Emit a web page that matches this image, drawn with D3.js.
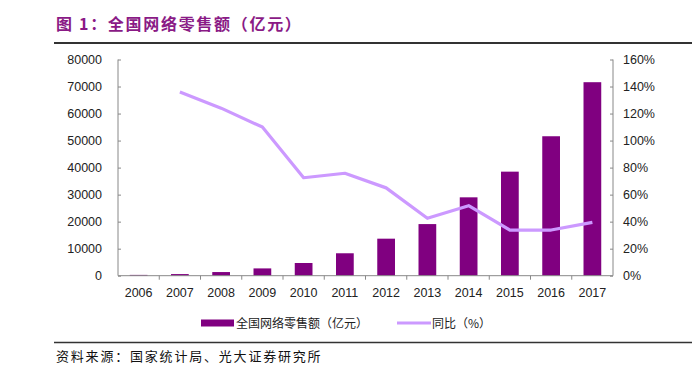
<!DOCTYPE html>
<html>
<head>
<meta charset="utf-8">
<script src="https://cdn.jsdelivr.net/npm/d3@7"></script>
<style>
  body { margin: 0; background: #fff; }
  svg { display: block; }
</style>
</head>
<body>
<svg width="692" height="373"></svg>
<script>
// 全国网络零售额 data
const years = ['2006', '2007', '2008', '2009', '2010', '2011', '2012',
  '2013', '2014', '2015', '2016', '2017'];
const sales = [300, 600, 1350, 2700, 4700, 8300, 13700, 19100, 29000,
  38500, 51600, 71600];
const growth = [null, 136, 124, 110, 72.5, 75.8, 65, 42.5, 51.8, 33.8,
  33.8, 39.5];
const leftTicks = [0, 10000, 20000, 30000, 40000, 50000, 60000, 70000, 80000];
const rightTicks = [0, 20, 40, 60, 80, 100, 120, 140, 160];

const svg = d3.select('svg');
const font = '"Liberation Sans", Arial, sans-serif';
const cjk = '"Noto Sans CJK SC", sans-serif';

const plotLeft = 118;
const plotRight = 613;
const plotTop = 59.5;
const plotBottom = 275.7;

const x = d3.scaleBand().domain(years).range([plotLeft, plotRight])
    .paddingInner(0.57).paddingOuter(0.285);
const xb = d3.scaleBand().domain(years).range([plotLeft, plotRight]);
const yL = d3.scaleLinear().domain([0, 80000]).range([plotBottom, plotTop]);
const yR = d3.scaleLinear().domain([0, 160]).range([plotBottom, plotTop]);

// title
svg.append('text')
    .attr('x', 56).attr('y', 30)
    .style('font-family', cjk).style('font-size', '16px')
    .style('font-weight', 'bold').style('fill', '#8a1a86')
    .style('letter-spacing', '1.7px')
    .text('图 1：全国网络零售额（亿元）');
svg.append('line')
    .attr('x1', 54).attr('x2', 692).attr('y1', 43).attr('y2', 43)
    .style('stroke', '#333').style('stroke-width', 2);

// bars
svg.append('g').selectAll('rect')
    .data(years)
    .enter()
    .append('rect')
    .attr('x', (d) => x(d))
    .attr('width', x.bandwidth())
    .attr('y', (d, i) => yL(sales[i]))
    .attr('height', (d, i) => plotBottom - yL(sales[i]))
    .style('fill', '#800080');

// growth line
const pts = years.map((d, i) => [xb(d) + xb.bandwidth() / 2, growth[i]])
    .filter((p) => p[1] !== null);
svg.append('path')
    .datum(pts)
    .attr('d', d3.line().x((p) => p[0]).y((p) => yR(p[1])))
    .style('fill', 'none')
    .style('stroke', '#cc99ff')
    .style('stroke-width', 3.2)
    .style('stroke-linejoin', 'round');

// axes
const axisColor = '#888';
const gL = svg.append('g').attr('transform', `translate(${plotLeft},0)`)
    .call(d3.axisRight(yL).tickValues(leftTicks).tickSize(3).tickFormat(''));
const gR = svg.append('g').attr('transform', `translate(${plotRight},0)`)
    .call(d3.axisLeft(yR).tickValues(rightTicks).tickSize(3).tickFormat(''));
[gL, gR].forEach((g) => {
  g.select('.domain').attr('d', `M0,${plotTop}V${plotBottom}`);
});

svg.append('g').selectAll('text')
    .data(leftTicks).enter().append('text')
    .attr('x', 102).attr('y', (d) => yL(d) + 4.5)
    .attr('text-anchor', 'end')
    .style('font-family', font).style('font-size', '12.5px')
    .style('fill', '#222')
    .text((d) => d);
svg.append('g').selectAll('text')
    .data(rightTicks).enter().append('text')
    .attr('x', 623).attr('y', (d) => yR(d) + 4.5)
    .style('font-family', font).style('font-size', '12.5px')
    .style('fill', '#222')
    .text((d) => d + '%');

// x axis
const gX = svg.append('g').attr('transform', `translate(0,${plotBottom})`);
gX.append('line').attr('x1', plotLeft).attr('x2', plotRight)
    .style('stroke', axisColor);
gX.selectAll('line.tk')
    .data(years.slice(1)).enter().append('line')
    .attr('class', 'tk')
    .attr('x1', (d) => xb(d)).attr('x2', (d) => xb(d))
    .attr('y1', 0).attr('y2', 4)
    .style('stroke', axisColor);
gX.selectAll('text')
    .data(years).enter().append('text')
    .attr('x', (d) => xb(d) + xb.bandwidth() / 2)
    .attr('y', 21)
    .attr('text-anchor', 'middle')
    .style('font-family', font).style('font-size', '12.5px')
    .style('fill', '#222')
    .text((d) => d);

svg.selectAll('.domain, .tick line').style('stroke', axisColor);

// legend
svg.append('rect').attr('x', 201).attr('y', 319.5).attr('width', 33)
    .attr('height', 7).style('fill', '#800080');
svg.append('text').attr('x', 236).attr('y', 327.5)
    .style('font-family', cjk).style('font-size', '12px').style('fill', '#222')
    .text('全国网络零售额（亿元）');
svg.append('line').attr('x1', 397).attr('x2', 431)
    .attr('y1', 323).attr('y2', 323)
    .style('stroke', '#cc99ff').style('stroke-width', 3);
svg.append('text').attr('x', 432).attr('y', 327.5)
    .style('font-family', cjk).style('font-size', '12px').style('fill', '#222')
    .text('同比（%）');

// source
svg.append('line')
    .attr('x1', 54).attr('x2', 692).attr('y1', 342.5).attr('y2', 342.5)
    .style('stroke', '#333').style('stroke-width', 1.5);
svg.append('text').attr('x', 56).attr('y', 361)
    .style('font-family', cjk).style('font-size', '13px').style('fill', '#111')
    .style('letter-spacing', '1.8px')
    .text('资料来源：国家统计局、光大证券研究所');
</script>
</body>
</html>
